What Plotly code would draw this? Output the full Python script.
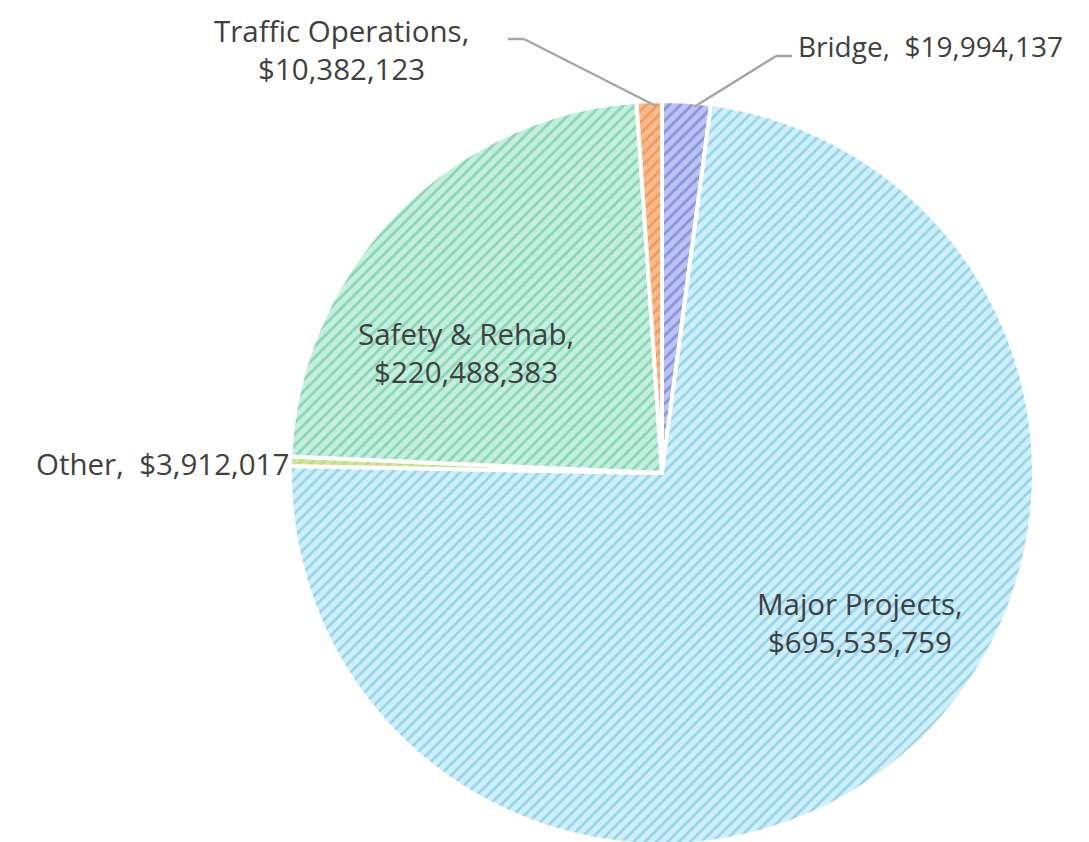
import plotly.graph_objects as go

categories = ["Bridge", "Major Projects", "Other", "Safety & Rehab", "Traffic Operations"]
values = [19994137, 695535759, 3912017, 220488383, 10382123]

bg_colors = ["#bcc3f2", "#cfeffa", "#cfe59a", "#c6eedf", "#f8bb8e"]
fg_colors = ["#5464d0", "#5bbae3", "#a9d15a", "#45bf8d", "#f07a28"]

cx, cy, r = 654, 465, 372

fig = go.Figure()
fig.add_trace(go.Pie(
    labels=categories,
    values=values,
    sort=False,
    direction="clockwise",
    rotation=0,
    textinfo="none",
    hoverinfo="label+value",
    marker=dict(
        colors=bg_colors,
        line=dict(color="white", width=4),
        pattern=dict(shape="/", fgcolor=fg_colors, bgcolor=bg_colors,
                     fillmode="overlay", size=8, solidity=0.35),
    ),
    domain=dict(x=[(cx - r) / 1089, (cx + r) / 1089], y=[1 - (cy + r) / 842, 1 - (cy - r) / 842]),
    showlegend=False,
))

font = dict(family="Open Sans, Segoe UI, sans-serif", size=29.5, color="#404040")
font_small = dict(family="Open Sans, Segoe UI, sans-serif", size=28, color="#404040")

def fmt(v):
    return "${:,}".format(v)

ann = [
    dict(x=333 / 1089, y=1 - 42 / 842, text=f"{categories[4]},<br>{fmt(values[4])}", xanchor="center", yanchor="middle", font=font),
    dict(x=789 / 1089, y=1 - 38 / 842, text=f"{categories[0]},&nbsp; {fmt(values[0])}", xanchor="left", yanchor="middle", font=font_small),
    dict(x=282 / 1089, y=1 - 455 / 842, text=f"{categories[2]},&nbsp; {fmt(values[2])}", xanchor="right", yanchor="middle", font=font),
    dict(x=458 / 1089, y=1 - 344 / 842, text=f"{categories[3]},<br>{fmt(values[3])}", xanchor="center", yanchor="middle", font=font),
    dict(x=852 / 1089, y=1 - 614 / 842, text=f"{categories[1]},<br>{fmt(values[1])}", xanchor="center", yanchor="middle", font=font),
]
for a in ann:
    a.update(xref="paper", yref="paper", showarrow=False, borderpad=0)

line_style = dict(color="#a6a6a6", width=2.5)
shapes = []
def seg(x0, y0, x1, y1):
    shapes.append(dict(type="line", xref="paper", yref="paper",
                       x0=x0 / 1089, y0=1 - y0 / 842, x1=x1 / 1089, y1=1 - y1 / 842,
                       line=line_style))
seg(500, 31, 516, 31)
seg(516, 31, 648, 98)
seg(768, 48, 784, 48)
seg(768, 48, 686, 99)

fig.update_layout(
    width=1089, height=842,
    margin=dict(l=0, r=0, t=0, b=0),
    paper_bgcolor="white", plot_bgcolor="white",
    annotations=ann, shapes=shapes,
)

fig.write_html("out.html")
